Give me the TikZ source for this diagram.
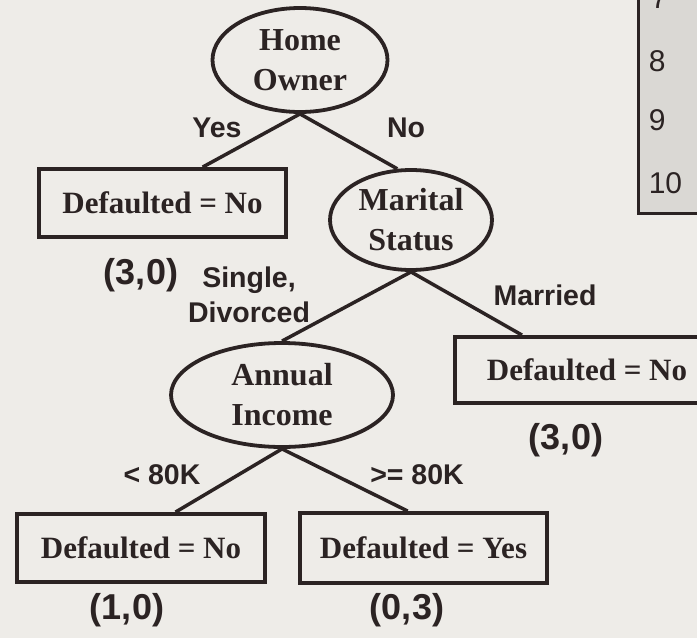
\documentclass[tikz,border=0pt]{standalone}
\usepackage{fontspec}
\usetikzlibrary{shapes.geometric,calc}
\newfontfamily\treeserif{Liberation Serif}
\newfontfamily\treesans{Liberation Sans}
\definecolor{paper}{HTML}{EEECE8}
\definecolor{ink}{HTML}{2B2323}
\definecolor{tablegray}{HTML}{DAD8D4}
\begin{document}
\begin{tikzpicture}[x=1pt,y=-1pt,
  line width=3.5pt, draw=ink, text=ink,
  test/.style={ellipse, draw, line width=3.8pt, inner sep=0pt, align=center,
    font=\treeserif\bfseries\fontsize{32}{40}\selectfont},
  leaf/.style={rectangle, draw, line width=3.8pt, inner sep=0pt, align=center,
    font=\treeserif\bfseries\fontsize{31}{36}\selectfont},
  branch/.style={font=\treesans\bfseries\fontsize{28.5}{35}\selectfont, align=center, inner sep=0pt},
  count/.style={font=\treesans\bfseries\fontsize{36}{40}\selectfont, inner sep=0pt},
  rownum/.style={font=\treesans\fontsize{30}{34}\selectfont, inner sep=0pt, anchor=west},
  link/.style={line width=3.5pt, draw=ink}]
\path[use as bounding box] (0,0) rectangle (697,638);
\clip (0,0) rectangle (697,638);
\fill[paper] (0,0) rectangle (697,638);

% corner of the data table
\fill[tablegray] (638,-10) rectangle (710,213);
\draw[line width=3pt] (638,-10) -- (638,213) -- (710,213);
\node[rownum] (r7) at (649,-2) {7};
\node[rownum] (r8) at (647,61) {8};
\node[rownum] (r9) at (647,120) {9};
\node[rownum] (r10) at (647,183) {10};

% tree nodes
\node[test, minimum width=175pt, minimum height=104pt] (ho) at (300,60) {Home\\Owner};
\node[leaf, minimum width=247pt, minimum height=68pt] (l1) at (162.5,203) {Defaulted = No};
\node[test, minimum width=162pt, minimum height=100pt] (ms) at (411,220) {Marital\\Status};
\node[leaf, anchor=west, minimum height=66pt, inner xsep=32pt, align=left] (l2) at (453,370) {Defaulted = No};
\node[test, minimum width=222pt, minimum height=104pt] (ai) at (282,395) {Annual\\Income};
\node[leaf, minimum width=248pt, minimum height=68pt] (l3) at (141,548) {Defaulted = No};
\node[leaf, minimum width=247pt, minimum height=70pt] (l4) at (423.5,548) {Defaulted = Yes};

% branches
\draw[link] (ho.south) -- ($(l1.north west)!0.66!(l1.north east)$);
\draw[link] (ho.south) -- (ms.105);
\draw[link] (ms.south) -- (ai.north);
\draw[link] (ms.south) -- ($(l2.north west)+(69,0)$);
\draw[link] (ai.south) -- ($(l3.north west)!0.637!(l3.north east)$);
\draw[link] (ai.south) -- ($(l4.north west)!0.437!(l4.north east)$);

% branch labels
\node[branch] (yes) at (217,128) {Yes};
\node[branch] (no) at (406,128) {No};
\node[branch] (sd) at (249,295) {Single,\\Divorced};
\node[branch] (mar) at (545,295) {Married};
\node[branch] (lt) at (162,475) {< 80K};
\node[branch] (ge) at (417,475) {>= 80K};

% class counts
\node[count] (c1) at (141,275) {(3,0)};
\node[count] (c2) at (566,440) {(3,0)};
\node[count] (c3) at (127,610) {(1,0)};
\node[count] (c4) at (407,610) {(0,3)};
\end{tikzpicture}
\end{document}
